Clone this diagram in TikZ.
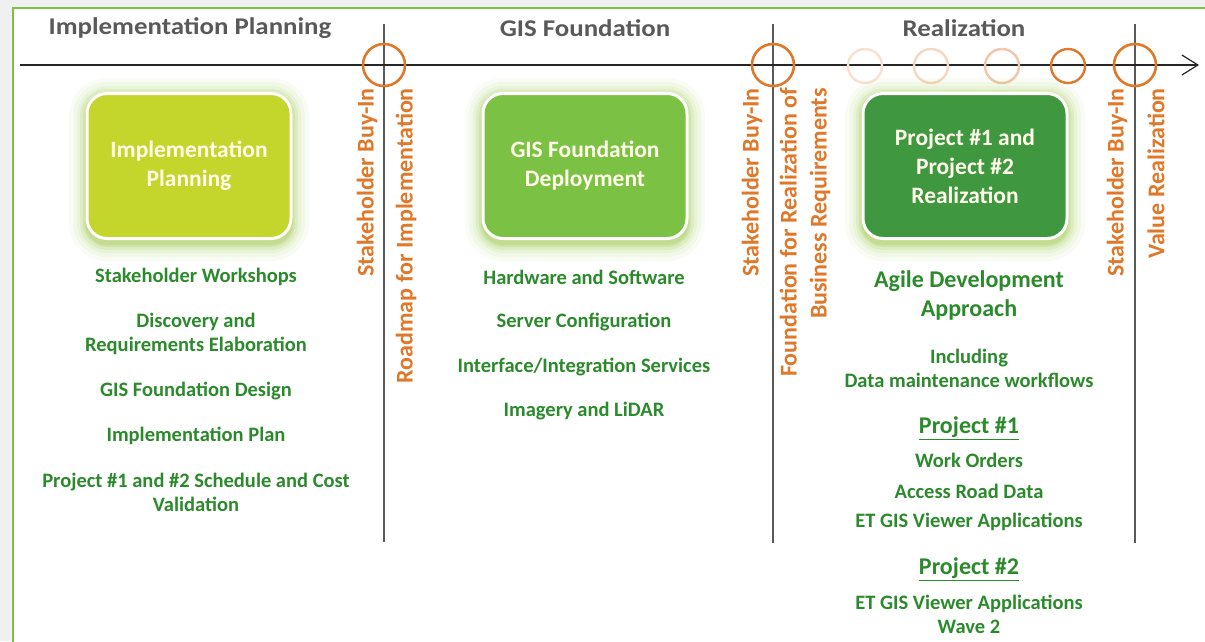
\documentclass[tikz,border=0pt]{standalone}
\usepackage{fontspec}
\setmainfont{Carlito}
\newfontfamily\hdrfont[FakeStretch=1.12]{Carlito}
\usetikzlibrary{arrows.meta}
\definecolor{bggray}{HTML}{F0F0F0}
\definecolor{framegreen}{HTML}{7DC242}
\definecolor{hdrgray}{HTML}{595959}
\definecolor{orng}{HTML}{E0782A}
\definecolor{txtgreen}{HTML}{2B8A2B}
\definecolor{boxA}{HTML}{C4D62C}
\definecolor{boxB}{HTML}{7BC143}
\definecolor{boxC}{HTML}{3F973F}
\definecolor{glowc}{HTML}{9CC84A}
\newcommand\gtxt{\fontsize{20.5}{24}\selectfont\bfseries}
\newcommand\btxt{\fontsize{24}{29}\selectfont\bfseries}
\begin{document}
\begin{tikzpicture}[x=1pt,y=-1pt,
  hdr/.style={text=hdrgray,font=\hdrfont\fontsize{24}{26}\selectfont\bfseries,inner sep=0pt},
  item/.style={text=txtgreen,font=\gtxt,align=center,inner sep=0pt},
  bigitem/.style={text=txtgreen,font=\btxt,align=center,inner sep=0pt},
  ms/.style={text=orng,font=\fontsize{24}{30}\selectfont\bfseries,rotate=90,anchor=east,inner sep=0pt,align=right},
  phase/.style={rounded corners=20pt,draw=white,line width=3pt,minimum width=204pt,minimum height=145pt,
     text=white!92!yellow,font=\fontsize{23.5}{29}\selectfont\bfseries,align=center},
  vline/.style={draw=black!65,line width=1.3pt},
  axis/.style={draw=black!85,line width=1.2pt,-{Straight Barb[length=16pt,width=20pt,line width=1.2pt]}},
  bigmile/.style={circle,draw=orng,line width=2.6pt,minimum size=42pt,inner sep=0pt},
  smallmile/.style={circle,line width=2.4pt,minimum size=34pt,inner sep=0pt}
]
\useasboundingbox (0,0) rectangle (1205,641);
\fill[bggray] (0,0) rectangle (1205,641);
\fill[white] (13,8) rectangle (1207,643);
\draw[framegreen,line width=2.4pt] (13,644) -- (13,8) -- (1208,8);

% headers
\node[hdr] (h1) at (190,28) {Implementation Planning};
\node[hdr] (h2) at (585,28) {GIS Foundation};
\node[hdr] (h3) at (964,28) {Realization};

% axis and phase dividers
\coordinate (tlS) at (20,65);
\coordinate (tlE) at (1199,65);
\coordinate (v1t) at (384,24); \coordinate (v1b) at (384,542);
\coordinate (v2t) at (773,24); \coordinate (v2b) at (773,543);
\coordinate (v3t) at (1135,24); \coordinate (v3b) at (1135,543);
\draw[vline] (v1t) -- (v1b);
\draw[vline] (v2t) -- (v2b);
\draw[vline] (v3t) -- (v3b);
\draw[axis] (tlS) -- (tlE);

% milestones
\node[bigmile] (m1) at (384,65) {};
\node[bigmile] (m2) at (773,65) {};
\node[bigmile] (m3) at (1135,65) {};
\node[smallmile,draw=orng!22] (s1) at (865,66) {};
\node[smallmile,draw=orng!30] (s2) at (931,66) {};
\node[smallmile,draw=orng!42] (s3) at (1002,66) {};
\node[smallmile,draw=orng] (s4) at (1068,66) {};

% glows
\foreach \cx in {189,585,965}{
  \foreach \g/\o in {18/0.05,14/0.07,10/0.10,7/0.14,4/0.2,2/0.25}{
    \fill[glowc,opacity=\o,rounded corners={20+\g}] ({\cx-102-\g},{94-\g+2}) rectangle ({\cx+102+\g},{239+\g+4});
  }
}

% phase boxes
\node[phase,fill=boxA] (p1) at (189,166) {Implementation\\Planning};
\node[phase,fill=boxB] (p2) at (585,166) {GIS Foundation\\Deployment};
\node[phase,fill=boxC] (p3) at (965,166) {Project \#1 and\\Project \#2\\Realization};

% milestone labels
\node[ms] (l1) at (367,88) {Stakeholder Buy-In};
\node[ms] (l2) at (406,88) {Roadmap for Implementation};
\node[ms] (l3) at (752,88) {Stakeholder Buy-In};
\node[ms] (l4) at (805,88) {Foundation for Realization of\\Business Requirements};
\node[ms] (l5) at (1117,88) {Stakeholder Buy-In};
\node[ms] (l6) at (1156,88) {Value Realization};

% column 1
\node[item] (a1) at (196,277) {Stakeholder Workshops};
\node[item] (a2) at (196,334) {Discovery and\\Requirements Elaboration};
\node[item] (a3) at (196,391) {GIS Foundation Design};
\node[item] (a4) at (196,436) {Implementation Plan};
\node[item] (a5) at (196,492) {Project \#1 and \#2 Schedule and Cost\\Validation};

% column 2
\node[item] (b1) at (584,277) {Hardware and Software};
\node[item] (b2) at (584,322) {Server Configuration};
\node[item] (b3) at (584,367) {Interface/Integration Services};
\node[item] (b4) at (584,411) {Imagery and LiDAR};

% column 3
\node[bigitem] (c1) at (969,295) {Agile Development\\Approach};
\node[item] (c2) at (969,368) {Including\\Data maintenance workflows};
\node[bigitem] (c3) at (969,428) {\underline{Project \#1}};
\node[item] (c4) at (969,460) {Work Orders};
\node[item] (c5) at (969,491) {Access Road Data};
\node[item] (c6) at (969,522) {ET GIS Viewer Applications};
\node[bigitem] (c7) at (969,569) {\underline{Project \#2}};
\node[item] (c8) at (969,614) {ET GIS Viewer Applications\\Wave 2};
\end{tikzpicture}
\end{document}
